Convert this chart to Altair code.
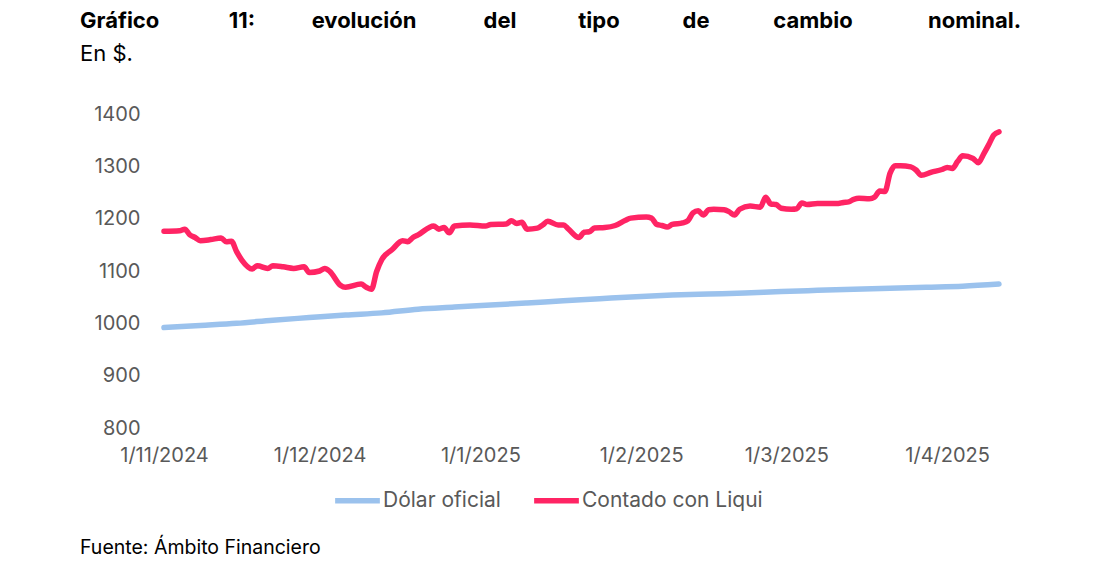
import altair as alt
import pandas as pd

# Contado con Liqui (CCL)
ccl_fecha = [
    "2024-11-01", "2024-11-04", "2024-11-05", "2024-11-06", "2024-11-07", "2024-11-08",
    "2024-11-10", "2024-11-12", "2024-11-13", "2024-11-14", "2024-11-15", "2024-11-16",
    "2024-11-18", "2024-11-19", "2024-11-21", "2024-11-22", "2024-11-24", "2024-11-26",
    "2024-11-28", "2024-11-29", "2024-12-01", "2024-12-02", "2024-12-03", "2024-12-05",
    "2024-12-06", "2024-12-09", "2024-12-10", "2024-12-11", "2024-12-12", "2024-12-13",
    "2024-12-15", "2024-12-17", "2024-12-18", "2024-12-19", "2024-12-20", "2024-12-23",
    "2024-12-24", "2024-12-25", "2024-12-26", "2024-12-27", "2024-12-30", "2025-01-02",
    "2025-01-03", "2025-01-06", "2025-01-07", "2025-01-08", "2025-01-09", "2025-01-10",
    "2025-01-12", "2025-01-13", "2025-01-14", "2025-01-16", "2025-01-17", "2025-01-18",
    "2025-01-20", "2025-01-21", "2025-01-22", "2025-01-23", "2025-01-25", "2025-01-27",
    "2025-01-29", "2025-01-30", "2025-02-02", "2025-02-03", "2025-02-04", "2025-02-05",
    "2025-02-06", "2025-02-07", "2025-02-09", "2025-02-10", "2025-02-11", "2025-02-12",
    "2025-02-13", "2025-02-14", "2025-02-15", "2025-02-17", "2025-02-18", "2025-02-19",
    "2025-02-20", "2025-02-22", "2025-02-24", "2025-02-25", "2025-02-26", "2025-02-27",
    "2025-02-28", "2025-03-02", "2025-03-03", "2025-03-04", "2025-03-05", "2025-03-07",
    "2025-03-09", "2025-03-11", "2025-03-12", "2025-03-13", "2025-03-14", "2025-03-15",
    "2025-03-17", "2025-03-18", "2025-03-19", "2025-03-20", "2025-03-21", "2025-03-22",
    "2025-03-23", "2025-03-25", "2025-03-26", "2025-03-27", "2025-03-29", "2025-03-31",
    "2025-04-01", "2025-04-02", "2025-04-03", "2025-04-04", "2025-04-06", "2025-04-07",
    "2025-04-08", "2025-04-09", "2025-04-10", "2025-04-11",
]
ccl_valor = [
    1176, 1177, 1180, 1169, 1164, 1158,
    1160, 1163, 1156, 1157, 1137, 1121,
    1104, 1110, 1105, 1110, 1108, 1105,
    1108, 1097, 1100, 1105, 1099, 1073,
    1069, 1075, 1069, 1065, 1099, 1122,
    1141, 1158, 1156, 1164, 1169, 1186,
    1180, 1183, 1173, 1186, 1188, 1186,
    1189, 1190, 1196, 1191, 1193, 1180,
    1182, 1188, 1195, 1188, 1188, 1180,
    1164, 1174, 1175, 1182, 1183, 1187,
    1197, 1201, 1203, 1201, 1189, 1187,
    1184, 1189, 1192, 1196, 1211, 1215,
    1207, 1217, 1218, 1217, 1213, 1207,
    1218, 1224, 1222, 1241, 1228, 1227,
    1220, 1218, 1219, 1230, 1227, 1229,
    1229, 1229, 1231, 1232, 1237, 1239,
    1238, 1241, 1253, 1252, 1287, 1301,
    1301, 1299, 1293, 1283, 1289, 1294,
    1298, 1296, 1309, 1320, 1315, 1307,
    1323, 1341, 1360, 1366,
]

# Dólar oficial
oficial_fecha = [
    "2024-11-01", "2024-11-08", "2024-11-15", "2024-11-22", "2024-11-29", "2024-12-06",
    "2024-12-13", "2024-12-20", "2024-12-27", "2025-01-03", "2025-01-10", "2025-01-17",
    "2025-01-24", "2025-01-31", "2025-02-07", "2025-02-14", "2025-02-21", "2025-02-28",
    "2025-03-07", "2025-03-14", "2025-03-21", "2025-03-28", "2025-04-04", "2025-04-11",
]
oficial_valor = [
    992, 996, 1000, 1006, 1011, 1016,
    1020, 1027, 1031, 1035, 1039, 1043,
    1047, 1051, 1054, 1056, 1058, 1061,
    1063, 1065, 1067, 1069, 1071, 1075,
]

series = ["Dólar oficial", "Contado con Liqui"]
colores = ["#9BC2ED", "#FF2464"]
y_ticks = [800, 900, 1000, 1100, 1200, 1300, 1400]

titulo_palabras = ["Gráfico", "11:", "evolución", "del", "tipo", "de", "cambio", "nominal."]
subtitulo = "En $."
fuente = "Fuente: Ámbito Financiero"

FONT = "Inter"

df = pd.concat([
    pd.DataFrame({"fecha": oficial_fecha, "valor": oficial_valor, "serie": series[0]}),
    pd.DataFrame({"fecha": ccl_fecha, "valor": ccl_valor, "serie": series[1]}),
])

meses = [
    alt.DateTime(year=2024, month=11, date=1, utc=True),
    alt.DateTime(year=2024, month=12, date=1, utc=True),
    alt.DateTime(year=2025, month=1, date=1, utc=True),
    alt.DateTime(year=2025, month=2, date=1, utc=True),
    alt.DateTime(year=2025, month=3, date=1, utc=True),
    alt.DateTime(year=2025, month=4, date=1, utc=True),
]

lineas = alt.Chart(df).mark_line(
    strokeWidth=5.5, interpolate="monotone", strokeCap="round", strokeJoin="round"
).encode(
    x=alt.X("fecha:T", title=None,
            scale=alt.Scale(type="utc", domain=[
                alt.DateTime(year=2024, month=11, date=1, utc=True),
                alt.DateTime(year=2025, month=4, date=11, utc=True)]),
            axis=alt.Axis(values=meses, format="%-d/%-m/%Y", grid=False, domain=False,
                          ticks=False, labelPadding=17, labelFontSize=20,
                          labelColor="#595959", labelFont=FONT, labelFlush=False)),
    y=alt.Y("valor:Q", title=None,
            scale=alt.Scale(domain=[800, 1400], nice=False, zero=False),
            axis=alt.Axis(values=y_ticks, format="d", grid=False, domain=False, ticks=False,
                          labelPadding=24, labelFontSize=20, labelColor="#595959",
                          labelFont=FONT)),
    color=alt.Color("serie:N", scale=alt.Scale(domain=series, range=colores),
                    legend=alt.Legend(orient="none", legendX=168, legendY=361,
                                      direction="horizontal", title=None,
                                      symbolType="stroke", symbolSize=2000,
                                      symbolStrokeWidth=5.5, labelFontSize=21,
                                      labelColor="#595959", labelFont=FONT,
                                      labelOffset=0, columnPadding=22, labelLimit=0)),
    detail="serie:N",
)

capas = [lineas]

# título justificado: palabra por palabra
pos_x = [-84, 78, 200, 336, 435, 532, 649, 857]
alineado = ["left", "center", "center", "center", "center", "center", "center", "right"]
for palabra, px, al in zip(titulo_palabras, pos_x, alineado):
    capas.append(
        alt.Chart(pd.DataFrame({"t": [palabra]})).mark_text(
            align=al, baseline="middle", fontSize=22, fontWeight="bold",
            font=FONT, color="#000000"
        ).encode(x=alt.value(px), y=alt.value(-93), text="t:N")
    )

capas.append(
    alt.Chart(pd.DataFrame({"t": [subtitulo]})).mark_text(
        align="left", baseline="middle", fontSize=22, font=FONT, color="#000000"
    ).encode(x=alt.value(-84), y=alt.value(-60), text="t:N")
)
capas.append(
    alt.Chart(pd.DataFrame({"t": [fuente]})).mark_text(
        align="left", baseline="middle", fontSize=19.5, font=FONT, color="#000000"
    ).encode(x=alt.value(-84), y=alt.value(434), text="t:N")
)

chart = alt.layer(*capas).properties(
    width=835,
    height=314,
    autosize=alt.AutoSizeParams(type="none"),
    padding={"left": 156, "top": 106, "right": 70, "bottom": 130},
).configure_view(stroke=None)

chart.save("out.html", embed_options={"renderer": "svg", "actions": False})
